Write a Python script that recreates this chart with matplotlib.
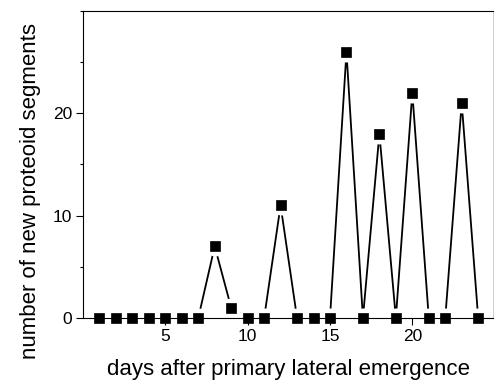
import numpy as np
import matplotlib
matplotlib.use("Agg")
import matplotlib.pyplot as plt
from matplotlib.ticker import MultipleLocator

# new proteoid segments per day after primary lateral emergence
days = np.arange(1, 25)
segments = [0, 0, 0, 0, 0, 0, 0, 7, 1, 0, 0, 11,
            0, 0, 0, 26, 0, 18, 0, 22, 0, 0, 21, 0]

x_ticks = [5, 10, 15, 20]
y_ticks = [0, 10, 20]

plt.rcParams['font.family'] = ['Liberation Sans', 'DejaVu Sans']

fig = plt.figure(figsize=(4.94, 3.80), dpi=100)
ax = fig.add_axes([0.168, 0.1632, 0.830, 0.808])

# connecting line, then a white halo under each marker so the line stops short
ax.plot(days, segments, color='black', lw=1.3, zorder=2, clip_on=False)
ax.plot(days, segments, ls='none', marker='o', ms=14.4, mfc='white',
        mew=0, zorder=2.2, clip_on=False)
ax.plot(days, segments, ls='none', marker='s', ms=7.0, mfc='black',
        mec='black', mew=0.5, zorder=3, clip_on=False)

ax.set_axisbelow(False)
ax.set_xlim(0, 24.9)
ax.set_ylim(0, 30)
ax.set_xticks(x_ticks)
ax.set_yticks(y_ticks)
ax.yaxis.set_minor_locator(MultipleLocator(5))

ax.tick_params(axis='both', which='major', direction='out', length=5,
               width=0.8, labelsize=12.5, pad=3)
ax.tick_params(axis='y', which='minor', direction='out', length=2.5, width=0.8)

for side in ['left', 'bottom', 'top']:
    ax.spines[side].set_linewidth(0.8)
ax.spines['right'].set_color('#c8c8c8')
ax.spines['right'].set_linewidth(0.6)

ax.set_xlabel('days after primary lateral emergence', fontsize=16)
ax.set_ylabel('number of new proteoid segments', fontsize=16)
ax.xaxis.set_label_coords(0.583, 0.056, transform=fig.transFigure)
ax.yaxis.set_label_coords(0.084, 0.497, transform=fig.transFigure)

fig.savefig('out.png', dpi=100)
